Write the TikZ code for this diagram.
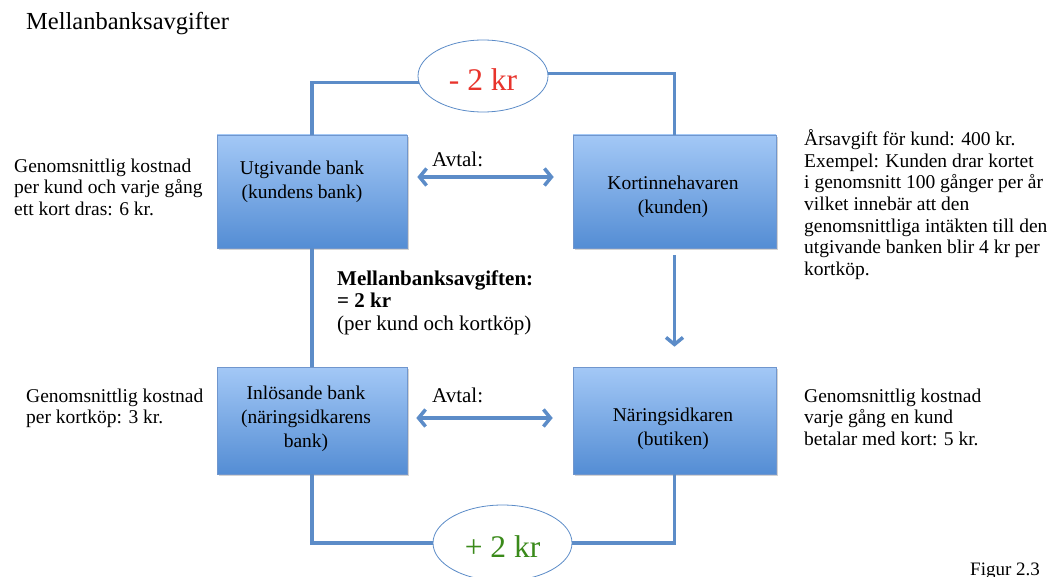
\documentclass[tikz,border=0pt]{standalone}
\usepackage{fontspec}
\setmainfont{Liberation Serif}
\usetikzlibrary{arrows.meta,shadows}
\definecolor{boxtop}{RGB}{163,200,246}
\definecolor{boxbot}{RGB}{84,141,212}
\definecolor{boxline}{RGB}{112,150,205}
\definecolor{linecol}{RGB}{92,140,200}
\definecolor{minusred}{RGB}{232,52,44}
\definecolor{plusgreen}{RGB}{58,138,26}
\tikzset{
  party/.style={rectangle,draw=boxline,line width=0.6pt,top color=boxtop,bottom color=boxbot,
    drop shadow={opacity=0.35,shadow xshift=1.5pt,shadow yshift=-2pt},inner sep=0pt},
  partytext/.style={align=center,inner sep=0pt,font=\fontsize{19.5}{23.8}\selectfont},
  fee/.style={ellipse,draw=linecol,line width=0.8pt,fill=white,inner sep=0pt,text height=29pt,
    font=\fontsize{31.5}{32}\selectfont},
  conn/.style={draw=linecol,line width=3.5pt},
  flow/.style={conn,-{Straight Barb[length=7pt,width=17pt]}},
  deal/.style={conn,{Straight Barb[length=7pt,width=17pt]}-{Straight Barb[length=7pt,width=17pt]}},
  note/.style={align=left,anchor=north west,inner sep=0pt,font=\fontsize{19.5}{21.7}\selectfont}
}
\usetikzlibrary{shapes.geometric}
\begin{document}
\begin{tikzpicture}[x=1pt,y=-1pt]
%  \draw[help lines] (0,0) grid (1049,577);
  \useasboundingbox (0,0) rectangle (1049,577);
  \path (312,191.5) node(ub) [party,minimum width=190pt,minimum height=113pt] {}
    (674.5,191.5) node(ki) [party,minimum width=203pt,minimum height=113pt] {}
    (312,420.5) node(ib) [party,minimum width=190pt,minimum height=107pt] {}
    (674.5,420.5) node(ns) [party,minimum width=203pt,minimum height=107pt] {};
  \path (302,182) node(ubt) [partytext] {Utgivande bank\\(kundens bank)}
    (673,197) node(kit) [partytext] {Kortinnehavaren\\(kunden)}
    (306,419) node(ibt) [partytext] {Inlösande bank\\(näringsidkarens\\bank)}
    (673,429) node(nst) [partytext] {Näringsidkaren\\(butiken)};
  \path (483,76) node(em) [fee,minimum width=130pt,minimum height=72pt] {\textcolor{minusred}{- 2 kr}}
    (502.5,543) node(ep) [fee,minimum width=139pt,minimum height=76pt] {\textcolor{plusgreen}{+ 2 kr}};
  \draw[conn] (ub.north) |- (em.186);
  \draw[conn] (em.2) -| (ki.north);
  \draw[conn] (ub.south) -- (ib.north);
  \draw[flow] ([yshift=-7pt]ki.south) -- ([yshift=20pt]ns.north);
  \draw[conn] (ib.south) |- (ep.west);
  \draw[conn] (ep.east) -| (ns.south);
  \draw[deal] ([shift={(10,-14.5)}]ub.east) -- ([shift={(-19,-14.5)}]ki.west);
  \draw[deal] ([shift={(9,-2.5)}]ib.east) -- ([shift={(-20,-2.5)}]ns.west);
  \path (432,167) node(avtal1) [anchor=base west,inner sep=0pt,font=\fontsize{21}{24}\selectfont] {Avtal:}
    (432,402) node(avtal2) [anchor=base west,inner sep=0pt,font=\fontsize{21}{24}\selectfont] {Avtal:};
  \path (26,30) node(title) [anchor=base west,inner sep=0pt,font=\fontsize{24.5}{28}\selectfont] {Mellanbanksavgifter};
  \path (14,158.3) node(cost1) [note] {Genomsnittlig kostnad\\per kund och varje gång\\ett kort dras: 6 kr.}
    (26,388.3) node(cost2) [note] {Genomsnittlig kostnad\\per kortköp: 3 kr.}
    (804,129.3) node(fee1) [note] {Årsavgift för kund: 400 kr.\\Exempel: Kunden drar kortet\\i genomsnitt 100 gånger per år\\vilket innebär att den\\genomsnittliga intäkten till den\\utgivande banken blir 4 kr per\\kortköp.}
    (804,388.3) node(cost3) [note] {Genomsnittlig kostnad\\varje gång en kund\\betalar med kort: 5 kr.}
    (337,270.3) node(mid) [note,font=\fontsize{21}{22.5}\selectfont] {\textbf{Mellanbanksavgiften:}\\\textbf{= 2 kr}\\(per kund och kortköp)};
  \path (970,575) node(fig) [anchor=base west,inner sep=0pt,font=\fontsize{19}{22}\selectfont] {Figur 2.3};
\end{tikzpicture}
\end{document}
